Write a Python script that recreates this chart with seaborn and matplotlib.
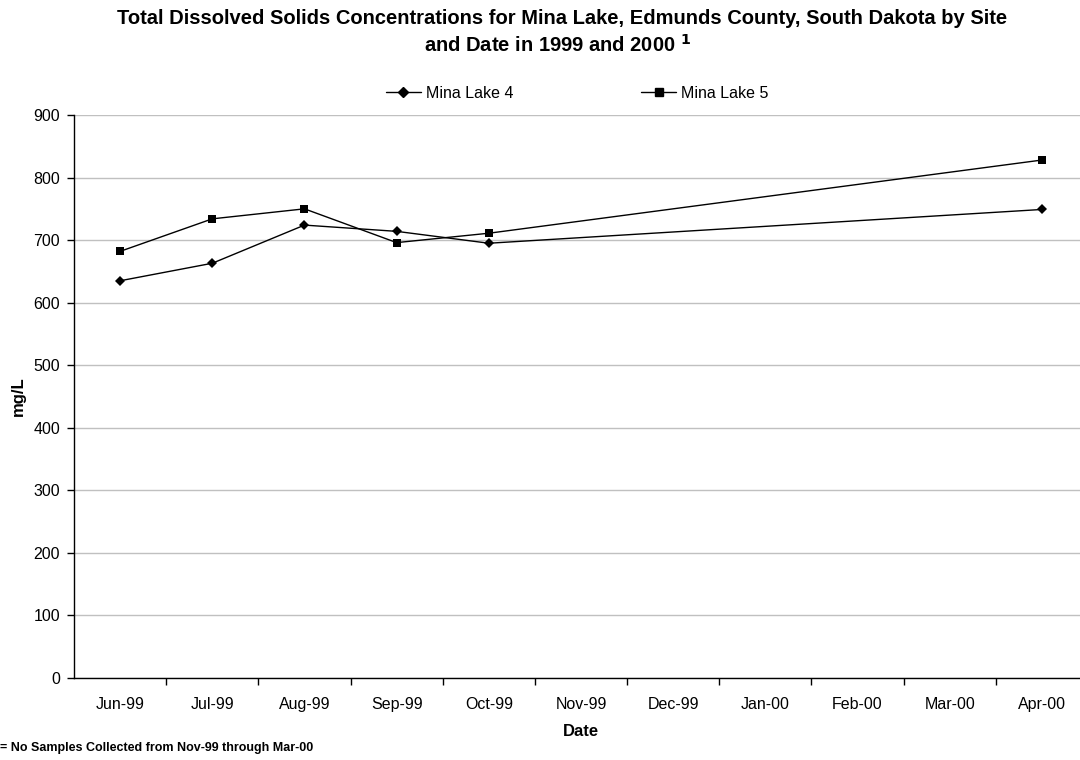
import matplotlib
matplotlib.use("Agg")
import matplotlib.pyplot as plt
import seaborn as sns
import pandas as pd
from matplotlib.lines import Line2D

categories = ["Jun-99", "Jul-99", "Aug-99", "Sep-99", "Oct-99", "Nov-99",
              "Dec-99", "Jan-00", "Feb-00", "Mar-00", "Apr-00"]
sample_dates = ["Jun-99", "Jul-99", "Aug-99", "Sep-99", "Oct-99", "Apr-00"]
mina_lake_4 = [635, 663, 724, 714, 695, 749]
mina_lake_5 = [682, 734, 750, 696, 711, 828]
series_names = ["Mina Lake 4", "Mina Lake 5"]
y_ticks = [0, 100, 200, 300, 400, 500, 600, 700, 800, 900]

sns.set_theme(style="white")
plt.rcParams['font.family'] = ['Liberation Sans', 'DejaVu Sans']
plt.rcParams['text.color'] = 'black'
plt.rcParams['xtick.color'] = 'black'
plt.rcParams['ytick.color'] = 'black'
plt.rcParams['axes.labelcolor'] = 'black'

rows = []
for name, vals in zip(series_names, [mina_lake_4, mina_lake_5]):
    for d, v in zip(sample_dates, vals):
        rows.append({"pos": categories.index(d), "value": v, "series": name})
df = pd.DataFrame(rows)

fig = plt.figure(figsize=(10.8, 7.6), dpi=100)
W, H = 1080, 760
ax = fig.add_axes([74 / W, 82 / H, (1088 - 74) / W, 563 / H])

sns.lineplot(data=df, x="pos", y="value", hue="series", style="series",
             markers={"Mina Lake 4": "D", "Mina Lake 5": "s"},
             dashes=False, palette={"Mina Lake 4": "black", "Mina Lake 5": "black"},
             markersize=6, linewidth=1.0, markeredgewidth=0, ax=ax, legend=False)
for line, ms in zip(ax.get_lines(), [5.5, 6]):
    line.set_markersize(ms)

ax.set_xlim(-0.5, len(categories) - 0.5)
ax.set_ylim(0, 900)
ax.set_yticks(y_ticks)
ax.set_yticklabels([str(t) for t in y_ticks], fontsize=11.5)
ax.set_xticks(range(len(categories)))
ax.set_xticklabels(categories, fontsize=11.5)
ax.set_xticks([i + 0.5 for i in range(len(categories) - 1)], minor=True)
ax.tick_params(axis="x", which="major", length=0, pad=14)
ax.tick_params(axis="x", which="minor", length=5, width=1, color="black", direction="out", bottom=True)
ax.tick_params(axis="y", which="major", length=5, width=1, color="black", direction="out", left=True, pad=5)
ax.yaxis.grid(True, color="#c0c0c0", linewidth=1)
ax.set_axisbelow(True)
for s in ["top", "right"]:
    ax.spines[s].set_visible(False)
for s in ["left", "bottom"]:
    ax.spines[s].set_color("black")
    ax.spines[s].set_linewidth(1)

ax.set_xlabel("")
ax.set_ylabel("")
fig.text(18 / W, 1 - 396 / H, "mg/L", rotation=90, fontsize=12, fontweight="bold",
         ha="center", va="center")
fig.text(581 / W, 1 - 731 / H, "Date", fontsize=12, fontweight="bold", ha="center", va="center")
fig.text(0, 1 - 748 / H, "= No Samples Collected from Nov-99 through Mar-00", fontsize=9,
         fontweight="bold", ha="left", va="center")

fig.text(562 / W, 1 - 19 / H,
         "Total Dissolved Solids Concentrations for Mina Lake, Edmunds County, South Dakota by Site",
         fontsize=14.5, fontweight="bold", ha="center", va="center")
fig.text(558 / W, 1 - 45 / H, r"and Date in 1999 and 2000 $^{\mathbf{1}}$",
         fontsize=14.5, fontweight="bold", ha="center", va="center")

handles = [Line2D([], [], color="black", marker="D", markersize=5, linewidth=1),
           Line2D([], [], color="black", marker="s", markersize=5.5, linewidth=1)]
fig.legend(handles, series_names, loc="center", bbox_to_anchor=(577 / W, 1 - 93 / H),
           ncol=2, frameon=False, fontsize=11.5, handlelength=2.2, handletextpad=0.3,
           columnspacing=8)

fig.savefig("out.png", dpi=100)
